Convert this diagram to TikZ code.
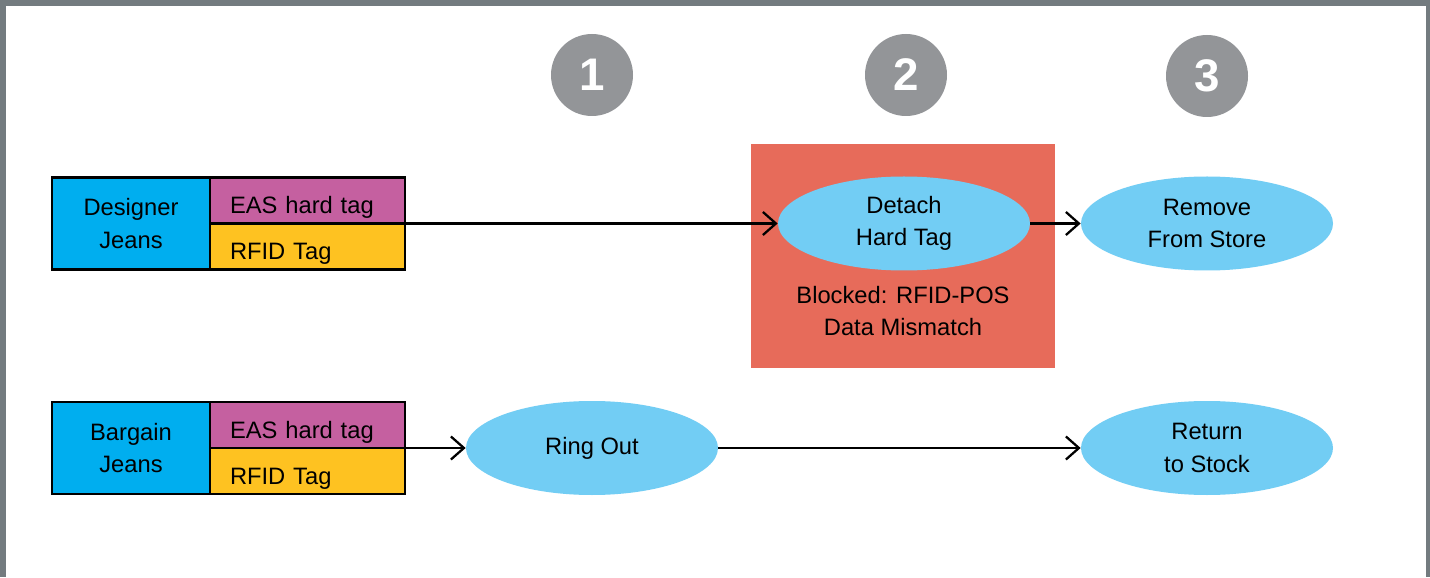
\documentclass[tikz,border=0pt]{standalone}
\usepackage{fontspec}
\setmainfont{Liberation Sans}
\usepackage{tikz}
\usetikzlibrary{shapes.geometric, arrows.meta}
\definecolor{jeansblue}{HTML}{00AEEF}
\definecolor{easpink}{HTML}{C560A0}
\definecolor{rfidyellow}{HTML}{FEC221}
\definecolor{stepblue}{HTML}{72CDF4}
\definecolor{blockred}{HTML}{E76B5A}
\definecolor{numgray}{HTML}{939598}
\definecolor{framegray}{HTML}{737B7F}

\begin{document}
\begin{tikzpicture}[
    every node/.style={font=\fontsize{13.5}{18.5}\selectfont},
    item/.style={rectangle, draw, line width=1.2pt, outer sep=0pt, fill=jeansblue, minimum width=3.16cm, minimum height=1.84cm, align=center, inner sep=0pt},
    tag/.style={rectangle, draw, line width=1.2pt, outer sep=0pt, minimum width=3.9cm, minimum height=0.92cm, text width=3.1cm, text height=0.6cm, text depth=0.08cm, inner xsep=0.4cm, inner ysep=0pt, align=left},
    stepnode/.style={ellipse, fill=stepblue, minimum width=5.04cm, minimum height=1.88cm, align=center, inner sep=0pt},
    num/.style={circle, fill=numgray, text=white, minimum size=1.64cm, inner sep=0pt, font=\fontsize{26}{26}\selectfont\bfseries},
    arr/.style={-{Straight Barb[length=2.6mm,width=4.6mm]}, line width=1.3pt}
    ]
    \fill[framegray] (0,0) rectangle (28.6,11.54);
    \fill[white] (0.12,0) rectangle (28.52,11.42);

    \node[num] (n1) at (11.84,10.04) {1};
    \node[num] (n2) at (18.12,10.04) {2};
    \node[num] (n3) at (24.14,10.02) {3};

    \node[item] (dj) at (2.62,7.07) {Designer\\Jeans};
    \node[tag, fill=easpink, anchor=south west] (dj-eas) at (dj.east) {EAS hard tag};
    \node[tag, fill=rfidyellow, anchor=north west] (dj-rfid) at (dj.east) {RFID Tag};

    \node[item] (bj) at (2.62,2.58) {Bargain\\Jeans};
    \node[tag, fill=easpink, anchor=south west] (bj-eas) at (bj.east) {EAS hard tag};
    \node[tag, fill=rfidyellow, anchor=north west] (bj-rfid) at (bj.east) {RFID Tag};

    \node[rectangle, fill=blockred, minimum width=6.08cm, minimum height=4.48cm] (block) at (18.06,6.42) {};
    \node[stepnode] (detach) at (18.08,7.07) {Detach\\Hard Tag};
    \node[align=center] (blocked) at (18.06,5.32) {Blocked: RFID-POS\\Data Mismatch};
    \node[stepnode] (remove) at (24.14,7.07) {Remove\\From Store};

    \node[stepnode] (ring) at (11.84,2.58) {Ring Out};
    \node[stepnode] (return) at (24.14,2.58) {Return\\to Stock};

    \draw[arr] (dj-eas.south east) -- (detach.west);
    \draw[arr] (detach.east) -- (remove.west);
    \draw[arr] (bj-eas.south east) -- (ring.west);
    \draw[arr] (ring.east) -- (return.west);
\end{tikzpicture}
\end{document}
